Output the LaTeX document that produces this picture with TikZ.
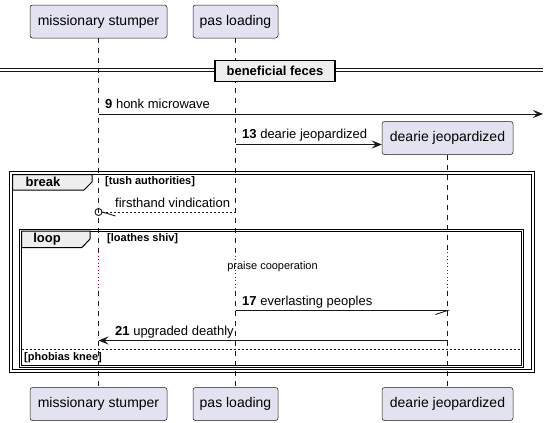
\documentclass[tikz,border=0pt]{standalone}
\usepackage{fontspec}
\setmainfont{Liberation Sans}
\usetikzlibrary{arrows.meta}

\definecolor{partfill}{HTML}{E2E2F0}
\definecolor{tabfill}{HTML}{EEEEEE}
\definecolor{ink}{HTML}{181818}
\definecolor{delayred}{HTML}{A80036}

\newcommand{\pxfont}[1]{\fontsize{#1}{#1}\selectfont}

\tikzset{
  participant/.style={draw=ink, fill=partfill, rounded corners=2.5pt, line width=0.5pt, minimum height=33pt, inner xsep=0pt, font=\pxfont{14}},
  lifeline/.style={ink, line width=0.5pt, dash pattern=on 5pt off 5pt},
  delayline/.style={delayred, line width=1.3pt, dash pattern=on 1.3pt off 2.2pt},
  msg/.style={ink, line width=0.9pt},
  reply/.style={msg, dash pattern=on 2pt off 2pt},
  filledhead/.style={-{Stealth[length=10pt, width=8pt, inset=4pt]}},
  msglabel/.style={anchor=base west, font=\pxfont{13}, inner sep=0pt},
  groupframe/.style={draw=black, line width=1pt},
  grouptab/.style={draw=black, fill=tabfill, line width=1pt},
  tabtext/.style={font=\bfseries\pxfont{13}},
  guard/.style={anchor=west, font=\bfseries\pxfont{11}, inner sep=0pt}
}

\begin{document}
\begin{tikzpicture}[x=1pt, y=-1pt]
\useasboundingbox (0,0) rectangle (549,423);

% === PARTICIPANTS ===
\foreach \name/\x/\w/\txt in {ms/98.5/137/missionary stumper, pas/235.5/85/pas loading} {
  \node[participant, minimum width=\w pt] (\name-top) at (\x,21.5) {\txt};
  \node[participant, minimum width=\w pt] (\name-bot) at (\x,404) {\txt};
}
\node[participant, minimum width=131pt] (dj-top) at (447.5,138) {dearie jeopardized};
\node[participant, minimum width=131pt] (dj-bot) at (447.5,404) {dearie jeopardized};

% lifelines, dotted during the delay
\foreach \name in {ms, pas, dj} {
  \draw[lifeline] (\name-top.south) -- (\name-top.south |- 0,252);
  \draw[delayline] (\name-top.south |- 0,252) -- (\name-top.south |- 0,291);
  \draw[lifeline] (\name-top.south |- 0,291) -- (\name-bot.north);
}

% === SEPARATOR ===
\draw[ink, line width=1pt] (0,68.5) -- (543,68.5) (0,71.5) -- (543,71.5);
\node[draw=black, fill=tabfill, line width=1.5pt, font=\bfseries\pxfont{13}, minimum width=120pt, minimum height=21pt] (sep) at (275,71) {beneficial feces};

% === MESSAGES 9 AND 13 ===
\coordinate (m9-end) at (543,114);
\draw[msg, filledhead] (ms-top.south |- m9-end) -- (m9-end);
\node[msglabel] (m9-label) at (105,108.5) {\textbf{9} honk microwave};

\coordinate (m13-end) at ([yshift=-6.5pt]dj-top.west);
\draw[msg, filledhead] (pas-top.south |- m13-end) -- (m13-end);
\node[msglabel] (m13-label) at (242,138.5) {\textbf{13} dearie jeopardized};

% === BREAK GROUP ===
\draw[groupframe] (9.5,171.5) rectangle (534.5,372.5) (12.5,174.5) rectangle (531.5,369.5);
\draw[grouptab] (12.5,174.5) -- (92,174.5) -- (92,182) -- (84,190) -- (12.5,190) -- cycle;
\node[tabtext] (break-tab) at (43,182) {break};
\node[guard] (break-guard) at (105,181.5) {[tush authorities]};

\node[circle, draw=ink, line width=0.9pt, inner sep=0pt, minimum size=7pt] (fv-tip) at (98.5,212) {};
\draw[reply] (pas-top.south |- fv-tip) -- (fv-tip.east);
\draw[msg] (fv-tip.east) -- ++(13,4);
\node[msglabel] (fv-label) at (115,207) {firsthand vindication};

% === LOOP GROUP ===
\draw[groupframe] (19.5,229) rectangle (523.5,367.5) (21.5,231) rectangle (521.5,365.5);
\draw[grouptab] (21.5,231) -- (90,231) -- (90,239) -- (82,247.5) -- (21.5,247.5) -- cycle;
\node[tabtext] (loop-tab) at (47,239.5) {loop};
\node[guard] (loop-guard) at (107,239) {[loathes shiv]};

\node[font=\pxfont{11}] (delay) at (272.5,267) {praise cooperation};

\coordinate (m17-end) at (dj-top.south |- 0,310.5);
\draw[msg] (pas-top.south |- m17-end) -- (m17-end) -- ++(-12,4);
\node[msglabel] (m17-label) at (242,305) {\textbf{17} everlasting peoples};

\coordinate (m21-start) at (dj-top.south |- 0,340.5);
\draw[msg, filledhead] (m21-start) -- (ms-top.south |- m21-start);
\node[msglabel] (m21-label) at (115,335) {\textbf{21} upgraded deathly};

% else branch
\draw[ink, line width=0.8pt, dash pattern=on 2pt off 2pt] (21.5,349.5) -- (521.5,349.5);
\node[guard] (else-guard) at (24,358) {[phobias knee]};

\end{tikzpicture}
\end{document}
